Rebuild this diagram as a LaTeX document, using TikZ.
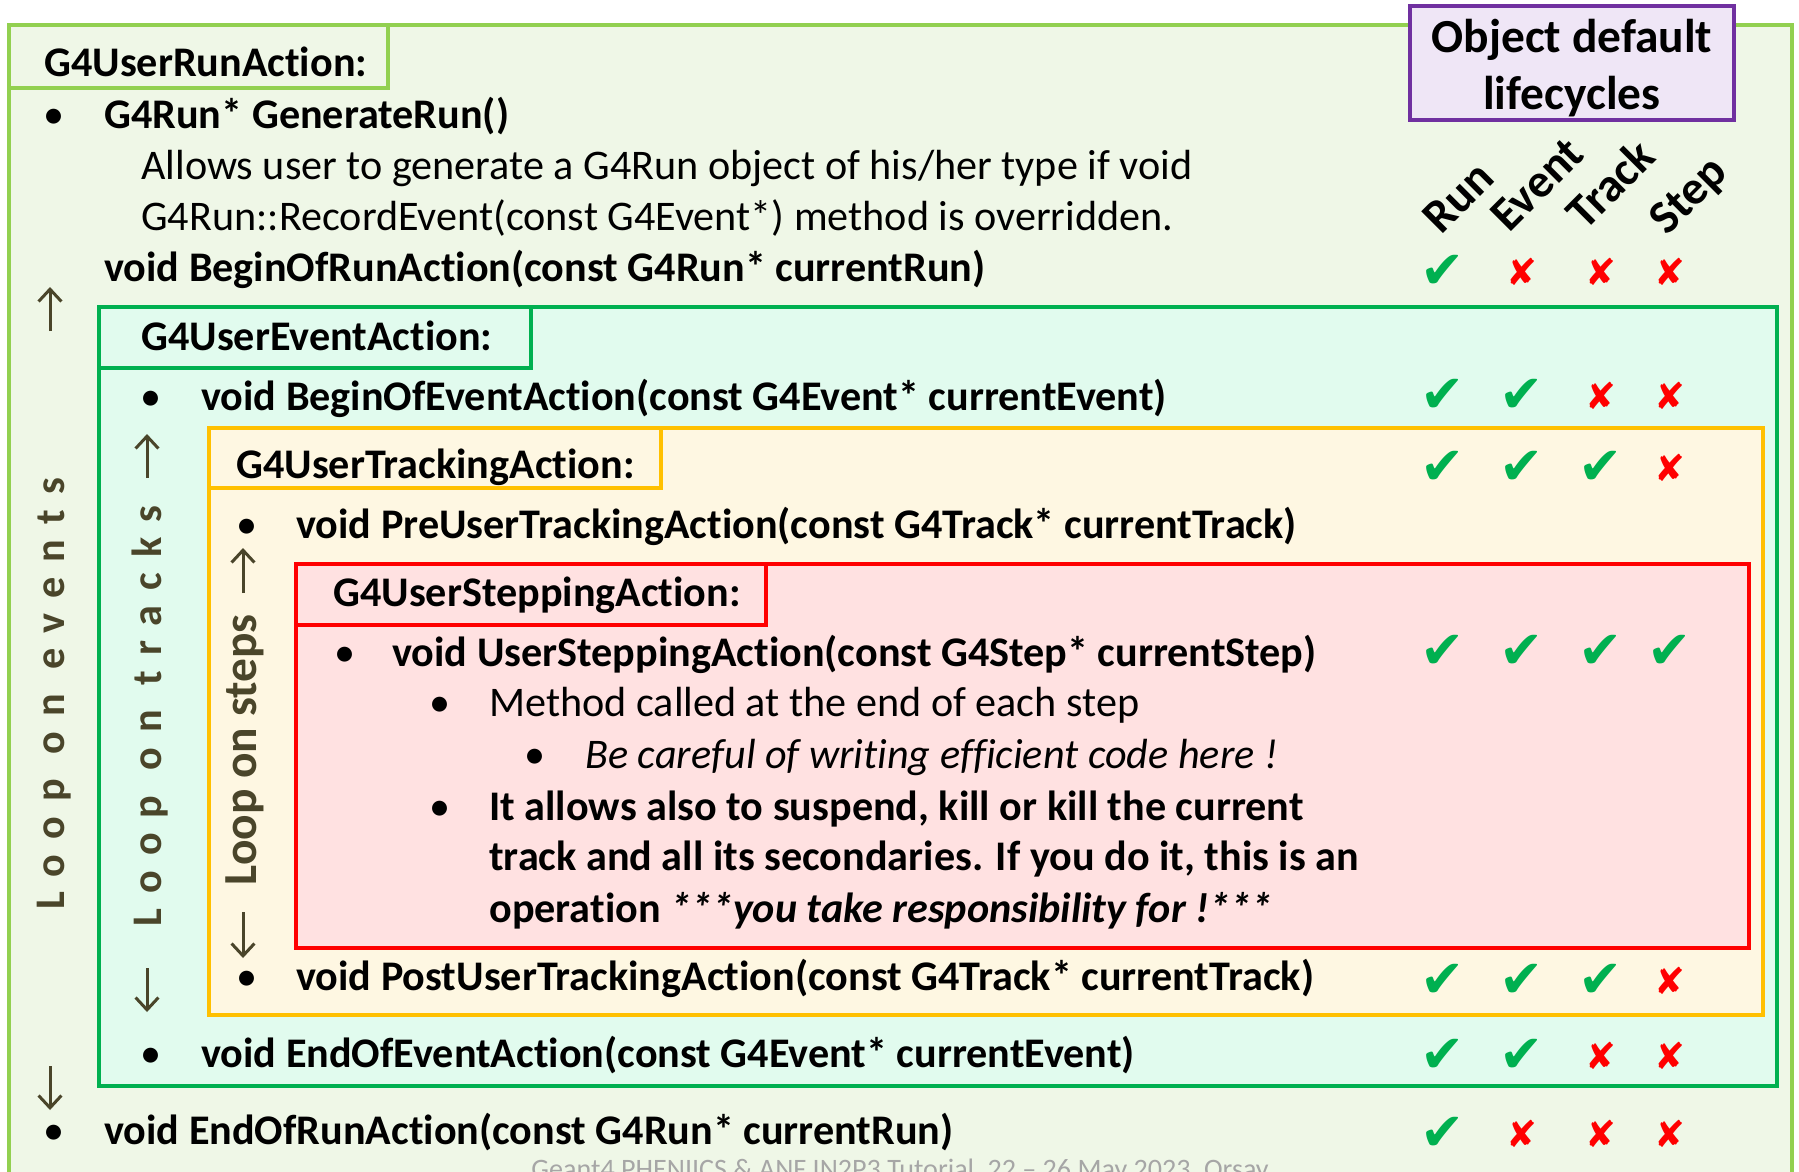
\documentclass[tikz,border=0pt]{standalone}
\usepackage{fontspec}
\setmainfont[Ligatures=NoCommon]{Carlito}
\newfontfamily\symfont{DejaVu Sans}
\newfontfamily\spacedfont[LetterSpace=36,Ligatures=NoCommon]{Carlito}
\usetikzlibrary{arrows.meta}
\definecolor{runline}{HTML}{92D050}
\definecolor{runfill}{HTML}{EFF7E7}
\definecolor{evtline}{HTML}{00B050}
\definecolor{evtfill}{HTML}{E1FBEE}
\definecolor{trkline}{HTML}{FFC000}
\definecolor{trkfill}{HTML}{FEF7E2}
\definecolor{stpline}{HTML}{FF0000}
\definecolor{stpfill}{HTML}{FFE1E1}
\definecolor{lifeline}{HTML}{7030A0}
\definecolor{lifefill}{HTML}{EFE6F6}
\definecolor{loopcol}{HTML}{4A452A}
\definecolor{okgreen}{HTML}{00B050}
\definecolor{nored}{HTML}{FF0000}
\definecolor{footgray}{HTML}{A6A6A6}
\newcommand{\yes}{\textcolor{okgreen}{\symfont\fontsize{30}{30}\selectfont ✔}}
\newcommand{\no}{\textcolor{nored}{\symfont\fontsize{21}{21}\selectfont ✘}}
\begin{document}
\begin{tikzpicture}[x=0.02cm,y=-0.02cm,
  txt/.style={anchor=base west,inner sep=0pt,font=\fontsize{24}{29}\selectfont\bfseries},
  plain/.style={anchor=base west,inner sep=0pt,font=\fontsize{24}{29}\selectfont},
  slant/.style={anchor=base west,inner sep=0pt,font=\fontsize{24}{29}\selectfont\itshape},
  hdr/.style={anchor=base west,inner sep=0pt,rotate=45,font=\fontsize{27}{30}\selectfont\bfseries},
  mk/.style={inner sep=0pt,anchor=center},
  frame/.style={line width=0.08cm},
  looptxt/.style={inner sep=0pt,rotate=90,text=loopcol,font=\fontsize{24}{29}\selectfont\bfseries},
  looparrow/.style={draw=loopcol,line width=0.06cm,-{Straight Barb[length=7pt,width=13pt]}}]
\useasboundingbox (0,0) rectangle (1799,1171);
\clip (0,0) rectangle (1799,1171);
\fill[white] (0,0) rectangle (1799,1171);
% nested action boxes
\draw[frame,draw=runline,fill=runfill] (9,25) rectangle (1792,1220);
\draw[frame,draw=runline,fill=runfill] (9,25) rectangle (388,88);
\draw[frame,draw=evtline,fill=evtfill] (99,307) rectangle (1777,1086);
\draw[frame,draw=evtline,fill=evtfill] (99,307) rectangle (531,368);
\draw[frame,draw=trkline,fill=trkfill] (209,428) rectangle (1763,1015);
\draw[frame,draw=trkline,fill=trkfill] (209,428) rectangle (661,488);
\draw[frame,draw=stpline,fill=stpfill] (296,564) rectangle (1749,948);
\draw[frame,draw=stpline,fill=stpfill] (296,564) rectangle (766,625);
\node[frame,draw=lifeline,fill=lifefill,minimum width=6.5cm,minimum height=2.3cm] (life) at (1572,63) {};
\node[align=center,inner sep=0pt,font=\fontsize{27}{32}\selectfont\bfseries] (lifetxt) at (1572,68)
  {Object default\\lifecycles};
% run action
\node[txt] (runlbl) at (44,76) {G4UserRunAction:};
\node[plain] (b1) at (43,128) {•};
\node[txt] (genrun) at (104,128) {G4Run* GenerateRun()};
\node[plain] (allow1) at (141,179) {Allows user to generate a G4Run object of his/her type if void};
\node[plain] (allow2) at (141,230) {G4Run::RecordEvent(const G4Event*) method is overridden.};
\node[txt] (bor) at (104,281) {void BeginOfRunAction(const G4Run* currentRun)};
\node[plain] (b9) at (43,1144) {•};
\node[txt] (eor) at (104,1144) {void EndOfRunAction(const G4Run* currentRun)};
% event action
\node[txt] (evtlbl) at (141,350) {G4UserEventAction:};
\node[plain] (b2) at (140,410) {•};
\node[txt] (boe) at (201,410) {void BeginOfEventAction(const G4Event* currentEvent)};
\node[plain] (b8) at (140,1067) {•};
\node[txt] (eoe) at (201,1067) {void EndOfEventAction(const G4Event* currentEvent)};
% tracking action
\node[txt] (trklbl) at (236,478) {G4UserTrackingAction:};
\node[plain] (b3) at (236,538) {•};
\node[txt] (pre) at (296,538) {void PreUserTrackingAction(const G4Track* currentTrack)};
\node[plain] (b7) at (236,990) {•};
\node[txt] (post) at (296,990) {void PostUserTrackingAction(const G4Track* currentTrack)};
% stepping action
\node[txt] (stplbl) at (333,606) {G4UserSteppingAction:};
\node[plain] (b4) at (334,666) {•};
\node[txt] (usa) at (392,666) {void UserSteppingAction(const G4Step* currentStep)};
\node[plain] (b5) at (429,716) {•};
\node[plain] (method) at (489,716) {Method called at the end of each step};
\node[plain] (b6) at (524,768) {•};
\node[slant] (careful) at (585,768) {Be careful of writing efficient code here !};
\node[plain] (b10) at (429,820) {•};
\node[txt] (kill1) at (489,820) {It allows also to suspend, kill or kill the current};
\node[txt] (kill2) at (489,870) {track and all its secondaries. If you do it, this is an};
\node[txt] (kill3) at (489,922) {operation \textit{***you take responsibility for !***}};
% loops
\node[looptxt,font=\fontsize{24}{29}\spacedfont\bfseries] (loopev) at (54,694) {Loop on events};
\draw[looparrow] (50,331) -- (50,287);
\draw[looparrow] (50,1066) -- (50,1110);
\node[looptxt,font=\fontsize{24}{29}\spacedfont\bfseries] (looptr) at (150,716) {Loop on tracks};
\draw[looparrow] (147,478) -- (147,434);
\draw[looparrow] (147,968) -- (147,1012);
\node[looptxt,font=\fontsize{27}{30}\selectfont\bfseries] (loopst) at (245,750) {Loop on steps};
\draw[looparrow] (243,593) -- (243,548);
\draw[looparrow] (243,912) -- (243,958);
% lifecycle columns
\node[hdr] (hrun) at (1441,236) {Run};
\node[hdr] (hevt) at (1509,234) {Event};
\node[hdr] (htrk) at (1585,232) {Track};
\node[hdr] (hstp) at (1667,237) {Step};
\foreach \r/\yy/\ma/\mb/\mc/\md in {1/272/\yes/\no/\no/\no, 2/396/\yes/\yes/\no/\no,
  3/468/\yes/\yes/\yes/\no, 4/652/\yes/\yes/\yes/\yes, 5/981/\yes/\yes/\yes/\no,
  6/1056/\yes/\yes/\no/\no, 7/1134/\yes/\no/\no/\no}{
  \node[mk] (m\r a) at (1443,\yy) {\ma};
  \node[mk] (m\r b) at (1522,\yy) {\mb};
  \node[mk] (m\r c) at (1601,\yy) {\mc};
  \node[mk] (m\r d) at (1670,\yy) {\md};
}
\node[anchor=base,inner sep=0pt,text=footgray,font=\fontsize{16}{19}\selectfont] (foot) at (900,1178)
  {Geant4 PHENIICS \& ANF IN2P3 Tutorial, 22 – 26 May 2023, Orsay};
\end{tikzpicture}
\end{document}
